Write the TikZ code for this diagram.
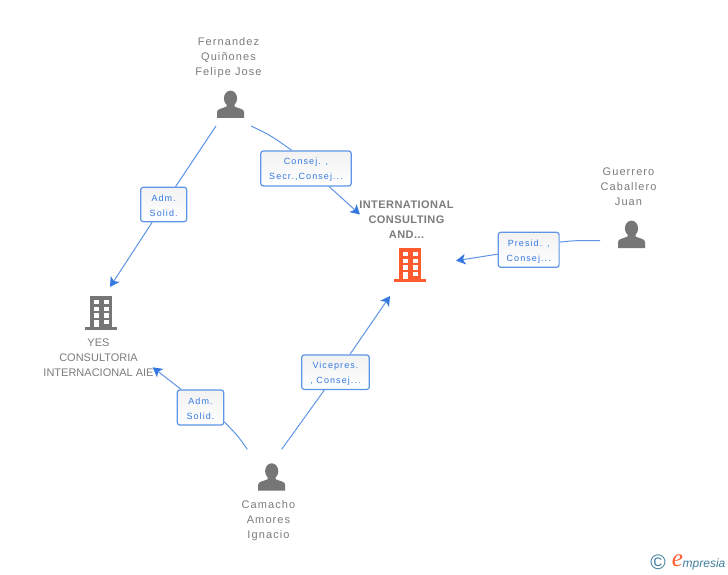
\documentclass[tikz,border=0pt]{standalone}
\usepackage{xcolor}
\usepackage{fontspec}
\setmainfont{Liberation Sans}
\newfontfamily\namefont[LetterSpace=10]{Liberation Sans}
\newfontfamily\rolefont[LetterSpace=12]{Liberation Sans}
\newfontfamily\boldnamefont[LetterSpace=4]{Liberation Sans Bold}
\newfontfamily\brandfont{Liberation Serif Italic}
\definecolor{empresia-grey}{HTML}{767676}
\definecolor{empresia-text}{HTML}{7C7C7C}
\definecolor{empresia-orange}{HTML}{FF5B2E}
\definecolor{empresia-blue}{HTML}{3478E0}
\definecolor{empresia-line}{HTML}{5F95E6}
\definecolor{empresia-teal}{HTML}{3F7F9F}
\usepackage{tikz}
\usetikzlibrary{arrows.meta}
\newcommand{\rolestrut}{\rule{0pt}{9.8pt}}

\tikzset{
    namelabel/.style={text=empresia-text, align=center, inner sep=0pt, font=\fontsize{11}{15}\selectfont\namefont},
    firmlabel/.style={text=empresia-text, align=center, inner sep=0pt, font=\fontsize{11}{15}\selectfont},
    mainlabel/.style={text=empresia-text, align=center, inner sep=0pt, font=\fontsize{11}{15}\selectfont\boldnamefont},
    rolebox/.style={draw=empresia-line, line width=1.2pt, rounded corners=2.5pt, top color=black!5, bottom color=white,
        text=empresia-blue, align=center, inner sep=0pt, font=\fontsize{9}{15}\selectfont\rolefont},
    connector/.style={draw=empresia-line, line width=1pt},
    arrowend/.style={connector, -{Stealth[length=9.5pt, width=10.5pt, inset=2.5pt, empresia-blue]}},
    pics/person/.style={code={
        \fill[empresia-grey] (0, -19.6) ellipse (6.6 and 7.8);
        \fill[empresia-grey] (-13.5, 0) -- (-13.5, -6) .. controls (-13.5, -9.5) and (-7.5, -9.5) .. (-4, -11.5)
            -- (-4, -15) -- (4, -15) -- (4, -11.5) .. controls (7.5, -9.5) and (13.5, -9.5) .. (13.5, -6) -- (13.5, 0) -- cycle;
    }},
    pics/building/.style={code={
        \fill[#1] (-5, 0) rectangle (17.3, 31.5);
        \fill[#1] (-9.7, 31) rectangle (22, 34);
        \foreach \rowy in {4, 10.7, 17.3, 24} {
            \fill[white] (-1.5, \rowy) rectangle (3.5, \rowy + 4.2);
            \fill[white] (8.5, \rowy) rectangle (13.5, \rowy + 4.2);
        }
        \fill[white] (-1.5, 24) rectangle (3.5, 31.3);
    }},
}

\begin{document}
\begin{tikzpicture}[x=1pt, y=-1pt]

    % Background
    \fill[white] (0, 0) rectangle (728, 575);
    \useasboundingbox (0, 0) rectangle (728, 575);

    % Names
    \node[namelabel] (fernandez) at (228.5, 57.3) {Fernandez\\Quiñones\\Felipe Jose};
    \node[namelabel] (guerrero) at (628.5, 187) {Guerrero\\Caballero\\Juan};
    \node[namelabel] (camacho) at (268.5, 520.3) {Camacho\\Amores\\Ignacio};
    \node[mainlabel] (international) at (406.5, 219.2) {INTERNATIONAL\\CONSULTING\\AND...};
    \node[firmlabel] (yes) at (98.5, 357.3) {YES\\CONSULTORIA\\INTERNACIONAL AIE};

    % Icons
    \pic at (230.5, 118) {person};
    \pic at (631.5, 248) {person};
    \pic at (271.7, 490.7) {person};
    \pic at (404, 248) {building=empresia-orange};
    \pic at (95, 296) {building=empresia-grey};

    % Role boxes
    \node[rolebox, minimum width=46pt, minimum height=34.4pt] (admupper) at (163.7, 204.5) {\rolestrut Adm.\\Solid.};
    \node[rolebox, minimum width=90.4pt, minimum height=35pt] (consejo) at (306, 168.5) {\rolestrut Consej. ,\\Secr.,Consej...};
    \node[rolebox, minimum width=60.8pt, minimum height=35pt] (presid) at (528.7, 249.8) {\rolestrut Presid. ,\\Consej...};
    \node[rolebox, minimum width=46.4pt, minimum height=35pt] (admlower) at (200.5, 407.5) {\rolestrut Adm.\\Solid.};
    \node[rolebox, minimum width=67.6pt, minimum height=34.4pt] (vicepres) at (335.5, 372.2) {\rolestrut Vicepres.\\, Consej...};

    % Connector ends
    \coordinate (fernandezleft) at (216, 126);
    \coordinate (fernandezright) at (251, 126);
    \coordinate (guerreroleft) at (600, 240.7);
    \coordinate (camacholeft) at (247.3, 449.3);
    \coordinate (camachoright) at (281.7, 449.3);
    \coordinate (yestopend) at (110, 287);
    \coordinate (yesrightend) at (152.7, 367.3);
    \coordinate (interleftend) at (360, 214.5);
    \coordinate (interrightend) at (456, 260.7);
    \coordinate (interbottomend) at (390, 296);

    % Connectors
    \draw[connector] (fernandezleft) -- (admupper);
    \draw[arrowend] (admupper) -- (yestopend);
    \draw[connector] (fernandezright) .. controls (270, 135) .. (consejo.128);
    \draw[arrowend] (consejo.-38) -- (interleftend);
    \draw[connector] (guerreroleft) .. controls (575, 240.5) .. (presid.14);
    \draw[arrowend] (presid.188) -- (interrightend);
    \draw[connector] (camacholeft) .. controls (238, 436) .. (admlower.-31);
    \draw[arrowend] (admlower.137) -- (yesrightend);
    \draw[connector] (camachoright) -- (vicepres.238);
    \draw[arrowend] (vicepres.51) -- (interbottomend);

    % Brand
    \node[text=empresia-teal, inner sep=0pt, font=\fontsize{21}{21}\selectfont] (copyright) at (658, 562.5) {©};
    \node[text=empresia-orange, inner sep=0pt, font=\fontsize{25}{25}\selectfont\brandfont] (brande) at (677.5, 561) {e};
    \node[text=empresia-teal, inner sep=0pt, anchor=west, font=\fontsize{12}{12}\selectfont\itshape] (brandname) at (682.5, 564.5) {mpresia};

\end{tikzpicture}
\end{document}
